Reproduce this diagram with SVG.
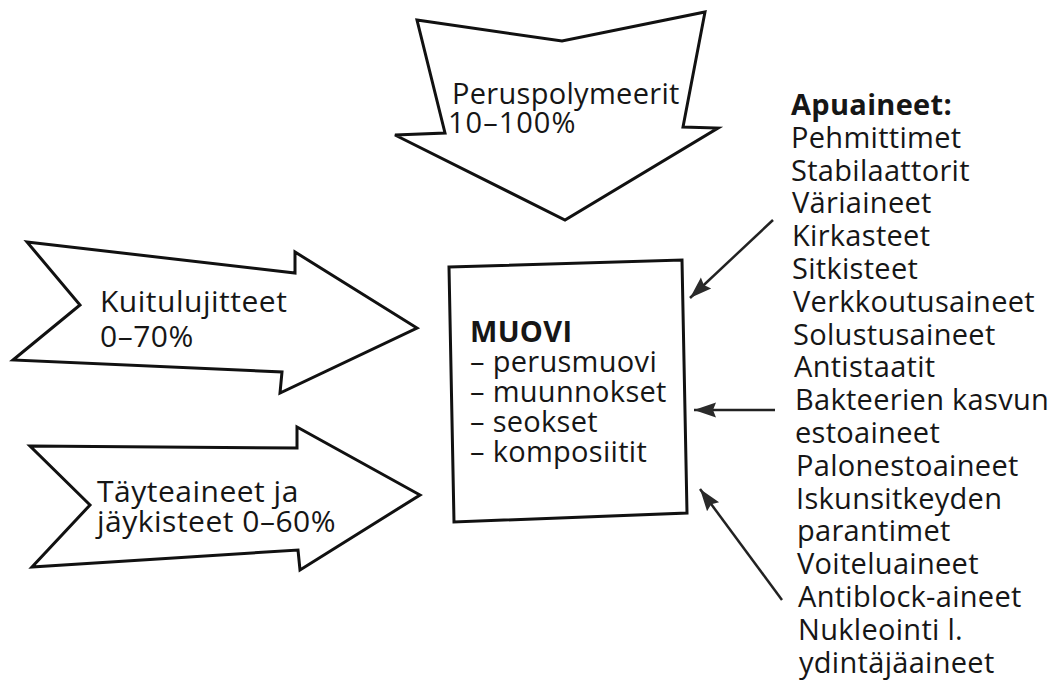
<svg xmlns="http://www.w3.org/2000/svg" width="1061" height="682" viewBox="0 0 1061 682">
<style>
.shape{fill:#fff;stroke:#111;stroke-width:3;stroke-linejoin:miter}
.t{font-family:"Open Sans","Noto Sans",sans-serif;font-size:29px;letter-spacing:0.3px;fill:#161616}
.a{font-size:30px;letter-spacing:0.5px}
.b{font-weight:bold}
.con{stroke:#222;stroke-width:2.5;fill:none}
</style>
<defs>
<marker id="ah" markerUnits="userSpaceOnUse" markerWidth="24" markerHeight="18" viewBox="0 0 24 18" refX="22" refY="9" orient="auto">
<path d="M0,1.5 L22,9 L0,16.5 L3,9 Z" fill="#2a2a2a"/>
</marker>
</defs>
<rect width="1061" height="682" fill="#fff"/>
<g id="peruspolymeerit">
<polygon class="shape" points="417,20 562,41 705,12 683,127 718,128 565,220 395,135 445,133"/>
<text class="t"><tspan x="452" y="104">Peruspolymeerit</tspan><tspan x="448" y="133" letter-spacing="1">10–100%</tspan></text>
</g>
<g id="kuitulujitteet">
<polygon class="shape" points="27,242 295,273 295,252 417,328 280,393 282,372 13,360 80,305"/>
<text class="t a"><tspan x="100" y="312">Kuitulujitteet</tspan><tspan x="100" y="347">0–70%</tspan></text>
</g>
<g id="tayteaineet">
<polygon class="shape" points="30,446 297,448 297,427 420,495 300,570 298,550 32,567 90,505"/>
<text class="t a"><tspan x="97" y="502">Täyteaineet ja</tspan><tspan x="97" y="532">jäykisteet 0–60%</tspan></text>
</g>
<g id="muovi">
<polygon class="shape" points="449,267 682,260 687,513 454,522"/>
<text class="t"><tspan class="b" x="470" y="342">MUOVI</tspan><tspan x="470" y="372">– perusmuovi</tspan><tspan x="470" y="402">– muunnokset</tspan><tspan x="470" y="432">– seokset</tspan><tspan x="470" y="462">– komposiitit</tspan></text>
</g>
<g id="apuaineet">
<text class="t"><tspan class="b" x="791" y="115">Apuaineet:</tspan><tspan x="791" y="147.8">Pehmittimet</tspan><tspan x="791" y="180.6">Stabilaattorit</tspan><tspan x="792" y="213.4">Väriaineet</tspan><tspan x="792" y="246.2">Kirkasteet</tspan><tspan x="792" y="279">Sitkisteet</tspan><tspan x="793" y="311.8">Verkkoutusaineet</tspan><tspan x="793" y="344.6">Solustusaineet</tspan><tspan x="794" y="377.4">Antistaatit</tspan><tspan x="795" y="410.2">Bakteerien kasvun</tspan><tspan x="795" y="443">estoaineet</tspan><tspan x="796" y="475.8">Palonestoaineet</tspan><tspan x="796" y="508.6">Iskunsitkeyden</tspan><tspan x="797" y="541.4">parantimet</tspan><tspan x="797" y="574.2">Voiteluaineet</tspan><tspan x="798" y="607">Antiblock-aineet</tspan><tspan x="798" y="639.8">Nukleointi l.</tspan><tspan x="799" y="672.6">ydintäjäaineet</tspan></text>
</g>
<g id="connectors">
<line class="con" x1="773" y1="220" x2="690" y2="298" marker-end="url(#ah)"/>
<line class="con" x1="775" y1="410" x2="694" y2="410" marker-end="url(#ah)"/>
<line class="con" x1="782" y1="600" x2="700" y2="489" marker-end="url(#ah)"/>
</g>
</svg>
